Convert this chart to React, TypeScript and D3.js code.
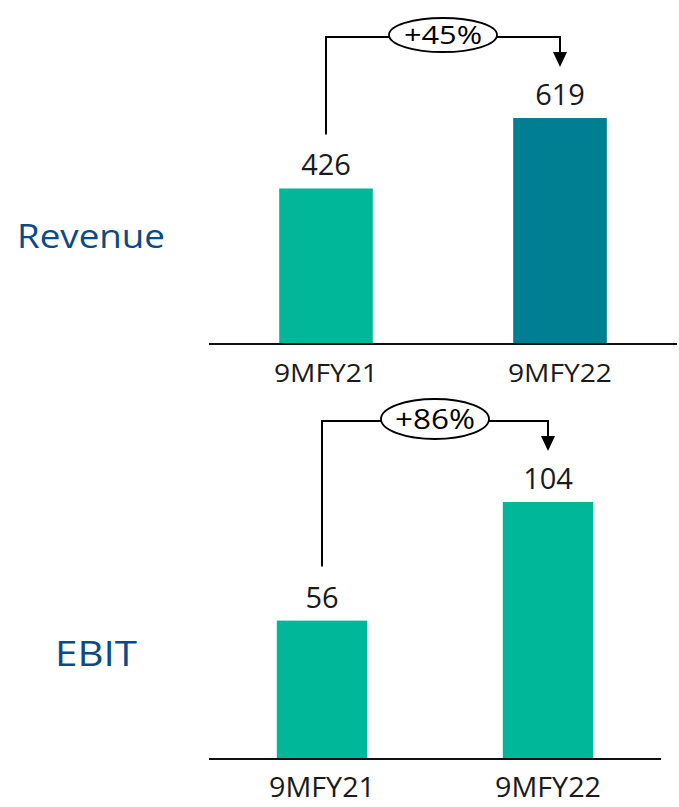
import React from 'react';
import * as d3 from 'd3';

const categories = ['9MFY21', '9MFY22'];
const revenueValues = [426, 619];
const ebitValues = [56, 104];
const revenueGrowth = '+45%';
const ebitGrowth = '+86%';

const FONT = "'Open Sans', 'Noto Sans', sans-serif";

type PanelProps = {
  title: string;
  values: number[];
  colors: string[];
  growth: string;
  baseY: number;
  topY: number;
  xRange: [number, number];
  titleX: number;
  titleY: number;
  titleSize: number;
  titleLen: number;
  catSize: number;
  catLen: number;
  growthSize: number;
  growthLen: number;
  ry: number;
};

const Panel = (p: PanelProps) => {
  const { values, colors, baseY, topY, xRange } = p;
  const x = d3.scaleBand().domain(categories).range(xRange).paddingInner(0.6).paddingOuter(0.3);
  // the larger bar sets the top of the scale
  const y = d3.scaleLinear().domain([0, d3.max(values) as number]).range([baseY, topY]);

  const c0 = (x(categories[0]) as number) + x.bandwidth() / 2;
  const c1 = (x(categories[1]) as number) + x.bandwidth() / 2;
  const lineY = y(values[1]) - 81;
  const tipY = y(values[1]) - 51;
  const startY = y(values[0]) - 54;
  const mid = (c0 + c1) / 2;

  return (
    <g>
      <text x={p.titleX} y={p.titleY} textAnchor="middle" fontSize={p.titleSize} textLength={p.titleLen} lengthAdjust="spacingAndGlyphs" fill="#0b4a84" fontFamily={FONT}>{p.title}</text>

      {values.map((v, i) => (
        <g key={categories[i]}>
          <rect x={x(categories[i])} y={y(v)} width={x.bandwidth()} height={baseY - y(v)} fill={colors[i]} />
          <text x={(x(categories[i]) as number) + x.bandwidth() / 2} y={y(v) - 13} textAnchor="middle" fontSize={29} fill="#1a1a1a" fontFamily={FONT}>{v}</text>
          <text x={(x(categories[i]) as number) + x.bandwidth() / 2} y={baseY + 38} textAnchor="middle" fontSize={p.catSize} textLength={p.catLen} lengthAdjust="spacingAndGlyphs" fill="#1a1a1a" fontFamily={FONT}>{categories[i]}</text>
        </g>
      ))}

      <line x1={xRange[0]} x2={xRange[1]} y1={baseY} y2={baseY} stroke="#111" strokeWidth={2} />

      {/* growth connector */}
      <path d={`M${c0},${startY}V${lineY}H${c1}V${tipY - 14}`} fill="none" stroke="#000" strokeWidth={2} />
      <path d={`M${c1 - 7},${tipY - 15}L${c1 + 7},${tipY - 15}L${c1},${tipY}Z`} fill="#000" />
      <ellipse cx={mid} cy={lineY - 2} rx={54} ry={p.ry} fill="#fff" stroke="#000" strokeWidth={1.8} />
      <text x={mid} y={lineY - 2} dy="0.36em" textAnchor="middle" fontSize={p.growthSize} textLength={p.growthLen} lengthAdjust="spacingAndGlyphs" fill="#000" fontFamily={FONT}>{p.growth}</text>
    </g>
  );
};

export default function App() {
  return (
    <svg width={679} height={807} style={{ position: 'absolute', left: 0, top: 0, background: '#fff' }}>
      <Panel
        title="Revenue"
        values={revenueValues}
        colors={['#00b899', '#007f93']}
        growth={revenueGrowth}
        baseY={344}
        topY={118}
        xRange={[209, 677]}
        titleX={91}
        titleY={248}
        titleSize={33}
        titleLen={148}
        catSize={26}
        catLen={104}
        growthSize={26}
        growthLen={78}
        ry={17}
      />
      <Panel
        title="EBIT"
        values={ebitValues}
        colors={['#00b899', '#00b899']}
        growth={ebitGrowth}
        baseY={759}
        topY={502}
        xRange={[209, 661]}
        titleX={96}
        titleY={666}
        titleSize={35}
        titleLen={82}
        catSize={28}
        catLen={106}
        growthSize={28}
        growthLen={80}
        ry={20}
      />
    </svg>
  );
}
